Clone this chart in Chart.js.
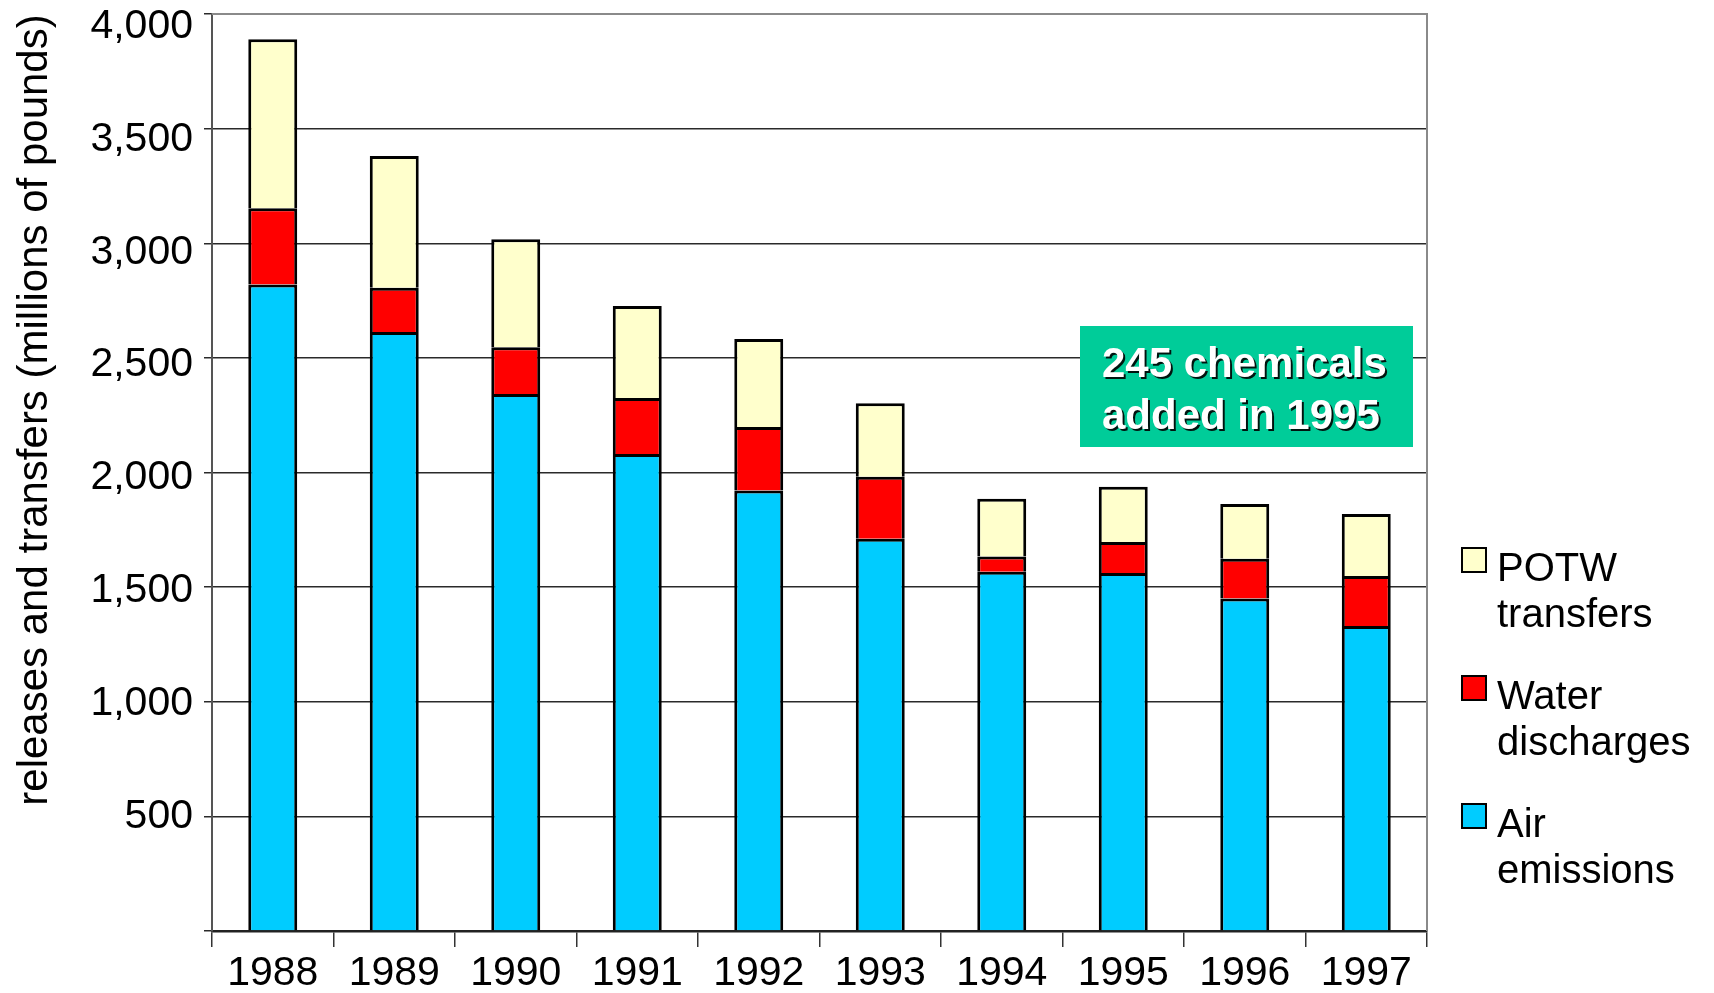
<!DOCTYPE html>
<html>
<head>
<meta charset="utf-8">
<script src="https://cdn.jsdelivr.net/npm/chart.js@4.4.1/dist/chart.umd.min.js"></script>
<style>
  html, body { margin: 0; padding: 0; background: #ffffff; }
  #wrap { width: 1714px; height: 993px; position: relative; }
</style>
</head>
<body>
<div id="wrap"><canvas id="chart" width="1714" height="993"></canvas></div>
<script>
// Toxic release inventory: releases and transfers, millions of pounds
const years = ['1988', '1989', '1990', '1991', '1992', '1993', '1994', '1995', '1996', '1997'];
const airEmissions    = [2820, 2613, 2342, 2081, 1921, 1711, 1567, 1562, 1450, 1330];
const waterDischarges = [333, 193, 204, 244, 277, 271, 67, 135, 174, 219];
const potwTransfers   = [737, 575, 471, 401, 384, 320, 252, 241, 239, 270];

const yAxisTitle = 'releases and transfers (millions of pounds)';
const legendLines = {
  potw: ['POTW', 'transfers'],
  water: ['Water', 'discharges'],
  air: ['Air', 'emissions']
};
const noteLines = ['245 chemicals', 'added in 1995'];

const FONT = "'Liberation Sans', Arial, sans-serif";

// Frame: top and right borders of the plot area, value labels, rotated axis title
const framePlugin = {
  id: 'frame',
  beforeDatasetsDraw(chart) {
    const { ctx, chartArea: a } = chart;
    ctx.save();
    ctx.strokeStyle = '#8a8a8a';
    ctx.lineWidth = 2;
    ctx.beginPath();
    ctx.moveTo(a.left, a.top);
    ctx.lineTo(a.right, a.top);
    ctx.lineTo(a.right, a.bottom);
    ctx.stroke();
    ctx.restore();
  },
  afterDraw(chart) {
    const { ctx } = chart;
    const y = chart.scales.y;
    ctx.save();
    // value labels on the left axis, drifting slightly down toward the top
    ctx.font = '41px ' + FONT;
    ctx.fillStyle = '#000';
    ctx.textAlign = 'right';
    ctx.textBaseline = 'middle';
    y.ticks.forEach(t => {
      if (t.value === 0) return;
      const py = y.getPixelForValue(t.value) + 12.7 * (t.value - 500) / 3500;
      ctx.fillText(t.value.toLocaleString('en-US'), 193, py);
    });
    // axis title
    ctx.translate(47, 410);
    ctx.rotate(-Math.PI / 2);
    ctx.font = '42px ' + FONT;
    ctx.textAlign = 'center';
    ctx.textBaseline = 'alphabetic';
    ctx.fillText(yAxisTitle, 0, 0);
    ctx.restore();
  }
};

// Green note box over the plot
const notePlugin = {
  id: 'note',
  afterDatasetsDraw(chart) {
    const { ctx } = chart;
    ctx.save();
    ctx.fillStyle = '#00CC99';
    ctx.fillRect(1080, 326, 333, 121);
    ctx.font = 'bold 42px ' + FONT;
    ctx.textAlign = 'left';
    ctx.textBaseline = 'alphabetic';
    ctx.shadowColor = 'rgba(0,0,0,0.9)';
    ctx.shadowOffsetX = 2;
    ctx.shadowOffsetY = 2;
    ctx.shadowBlur = 0;
    ctx.fillStyle = '#ffffff';
    ctx.fillText(noteLines[0], 1102, 377);
    ctx.fillText(noteLines[1], 1102, 429);
    ctx.restore();
  }
};

// Legend at the right, entries listed top to bottom with two-line labels
const legendPlugin = {
  id: 'sideLegend',
  afterDraw(chart) {
    const { ctx } = chart;
    const ds = chart.data.datasets;
    const order = [2, 1, 0];
    ctx.save();
    ctx.font = '40px ' + FONT;
    ctx.textAlign = 'left';
    ctx.textBaseline = 'alphabetic';
    order.forEach((di, k) => {
      const top = 547 + k * 128;
      ctx.fillStyle = ds[di].backgroundColor;
      ctx.fillRect(1462, top + 1, 24, 24);
      ctx.strokeStyle = '#000';
      ctx.lineWidth = 2;
      ctx.strokeRect(1462, top + 1, 24, 24);
      ctx.fillStyle = '#000';
      const lines = ds[di].legendLines;
      ctx.fillText(lines[0], 1497, top + 34);
      ctx.fillText(lines[1], 1497, top + 80);
    });
    ctx.restore();
  }
};

const barStyle = {
  borderColor: '#000000',
  borderWidth: { top: 3, left: 3, right: 3, bottom: 0 },
  borderSkipped: false,
  barPercentage: 0.403,
  categoryPercentage: 1.0
};

new Chart(document.getElementById('chart'), {
  type: 'bar',
  data: {
    labels: years,
    datasets: [
      Object.assign({ label: 'Air emissions', data: airEmissions, backgroundColor: '#00CCFF', legendLines: legendLines.air }, barStyle),
      Object.assign({ label: 'Water discharges', data: waterDischarges, backgroundColor: '#FF0000', legendLines: legendLines.water }, barStyle),
      Object.assign({ label: 'POTW transfers', data: potwTransfers, backgroundColor: '#FFFFCC', legendLines: legendLines.potw }, barStyle)
    ]
  },
  options: {
    responsive: false,
    animation: false,
    layout: { padding: { left: 0, right: 287, top: 14, bottom: 0 } },
    plugins: {
      legend: { display: false },
      tooltip: { enabled: false },
      title: { display: false }
    },
    scales: {
      x: {
        stacked: true,
        afterFit(scale) { scale.height = 62; scale.paddingLeft = 0; scale.paddingRight = 0; },
        grid: {
          offset: true,
          drawOnChartArea: false,
          drawTicks: true,
          tickLength: 16,
          color: '#333333',
          lineWidth: 1.5
        },
        border: { display: true, color: '#222222', width: 2.5 },
        ticks: {
          color: '#000',
          font: { family: FONT, size: 41 },
          padding: 2,
          maxRotation: 0,
          autoSkip: false
        }
      },
      y: {
        stacked: true,
        min: 0,
        max: 4000,
        afterFit(scale) { scale.width = 212; scale.paddingTop = 0; scale.paddingBottom = 0; },
        grid: {
          drawTicks: true,
          tickLength: 8,
          color: '#2a2a2a',
          lineWidth: 1.5
        },
        border: { display: true, color: '#555555', width: 2 },
        ticks: {
          display: false,
          stepSize: 500
        }
      }
    }
  },
  plugins: [framePlugin, notePlugin, legendPlugin]
});
</script>
</body>
</html>
